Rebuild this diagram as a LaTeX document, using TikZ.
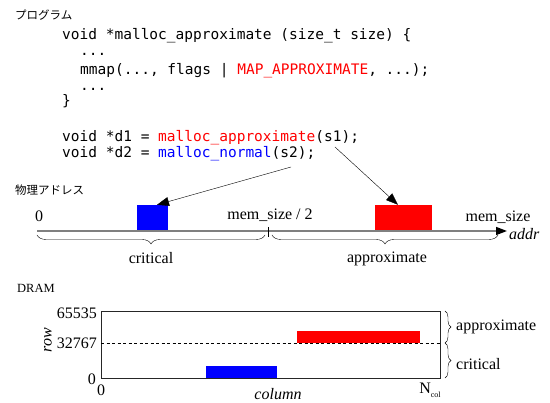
\documentclass[tikz,border=0pt]{standalone}
\usepackage{fontspec}
\setmainfont{Liberation Serif}
\newfontfamily\codefont{DejaVu Sans Mono}
\newfontfamily\jpfont{Noto Sans CJK JP}
\usetikzlibrary{arrows.meta,decorations.pathreplacing}

\begin{document}
\begin{tikzpicture}[x=1pt,y=-1pt,
    code/.style={anchor=base west, inner sep=0pt, font=\codefont\fontsize{14.5}{17}\selectfont},
    lbl/.style={inner sep=0pt, font=\fontsize{16}{19}\selectfont},
    jp/.style={anchor=west, inner sep=0pt, font=\jpfont\fontsize{11.5}{14}\selectfont},
    blk/.style={inner sep=0pt, minimum height=#1},
    ptr/.style={-{Triangle[length=12pt,width=9pt]}},
    brc/.style={decorate, decoration={brace, amplitude=9pt}},
]
    \useasboundingbox (0,0) rectangle (550,403);

    % Program
    \node[jp] (prog) at (15,15) {プログラム};
    \node[code] (l1) at (62,40) {void *malloc\_approximate (size\_t size) \{};
    \node[code] (l2) at (80,55.5) {...};
    \node[code] (l3) at (80,74.5) {mmap(..., flags | \textcolor{red}{MAP\_APPROXIMATE}, ...);};
    \node[code] (l4) at (80,90.5) {...};
    \node[code] (l5) at (62,106) {\}};
    \node[code] (d1) at (62,142) {void *d1 = \textcolor{red}{malloc\_approximate}(s1);};
    \node[code] (d2) at (62,158) {void *d2 = \textcolor{blue}{malloc\_normal}(s2);};
    \coordinate (s1) at (335,147);
    \coordinate (s2) at (291,167);

    % Physical address
    \node[jp] (phys) at (15,190) {物理アドレス};
    \node[blk=26pt, minimum width=31pt, fill=blue] (blue) at (152.5,218) {};
    \node[blk=26pt, minimum width=57pt, fill=red] (red) at (403.5,218) {};
    \coordinate (o) at (37,231);
    \coordinate (end) at (507,231);
    \draw[gray, line width=1.5pt, -{Triangle[length=11pt,width=8pt,black]}] (o) -- (end);
    \draw (268,227) -- (268,237);
    \node[lbl] (zero) at (39,216) {0};
    \node[lbl] (half) at (270,215) {mem\_size / 2};
    \node[lbl] (full) at (498,217) {mem\_size};
    \node[lbl, anchor=west, font=\fontsize{16}{19}\selectfont\itshape] (addr) at (509,234) {addr};
    \draw[brc, decoration={mirror}] (37,235) -- (265,235);
    \draw[brc, decoration={mirror}] (272,235) -- (498,235);
    \node[lbl] (crit) at (151,258) {critical};
    \node[lbl] (appr) at (387,259) {approximate};

    % Arrows
    \draw[ptr] (s2) -- ([xshift=4.5pt]blue.north);
    \draw[ptr] (s1) -- ([xshift=-5.5pt]red.north);

    % DRAM
    \node[lbl, anchor=west, font=\fontsize{12.5}{15}\selectfont] (dram) at (17,288) {DRAM};
    \draw[black!85] (101,311) rectangle (440,378);
    \fill[red] (297,331) rectangle (420,343);
    \fill[blue] (206,366) rectangle (277,378);
    \draw[dashed, dash pattern=on 3pt off 2.5pt, line width=0.9pt] (101,343) -- (440,343);
    \node[lbl, anchor=east] (top) at (97,313) {65535};
    \node[lbl, anchor=east] (mid) at (97,343) {32767};
    \node[lbl, anchor=east] (bot) at (96,379) {0};
    \node[lbl] (c0) at (101,390) {0};
    \node[lbl, font=\fontsize{16}{19}\selectfont\itshape] (col) at (278,394) {column};
    \node[lbl] (ncol) at (430,390) {N\raisebox{-4pt}{\fontsize{8}{8}\selectfont col}};
    \node[lbl, rotate=90, font=\fontsize{16}{19}\selectfont\itshape] (row) at (48,340) {row};
    \draw[brc, decoration={amplitude=6pt}] (445,311) -- (445,343);
    \draw[brc, decoration={amplitude=6pt}] (445,343) -- (445,378);
    \node[lbl, anchor=west] (rapp) at (456,327) {approximate};
    \node[lbl, anchor=west] (rcrit) at (456,364) {critical};
\end{tikzpicture}
\end{document}
